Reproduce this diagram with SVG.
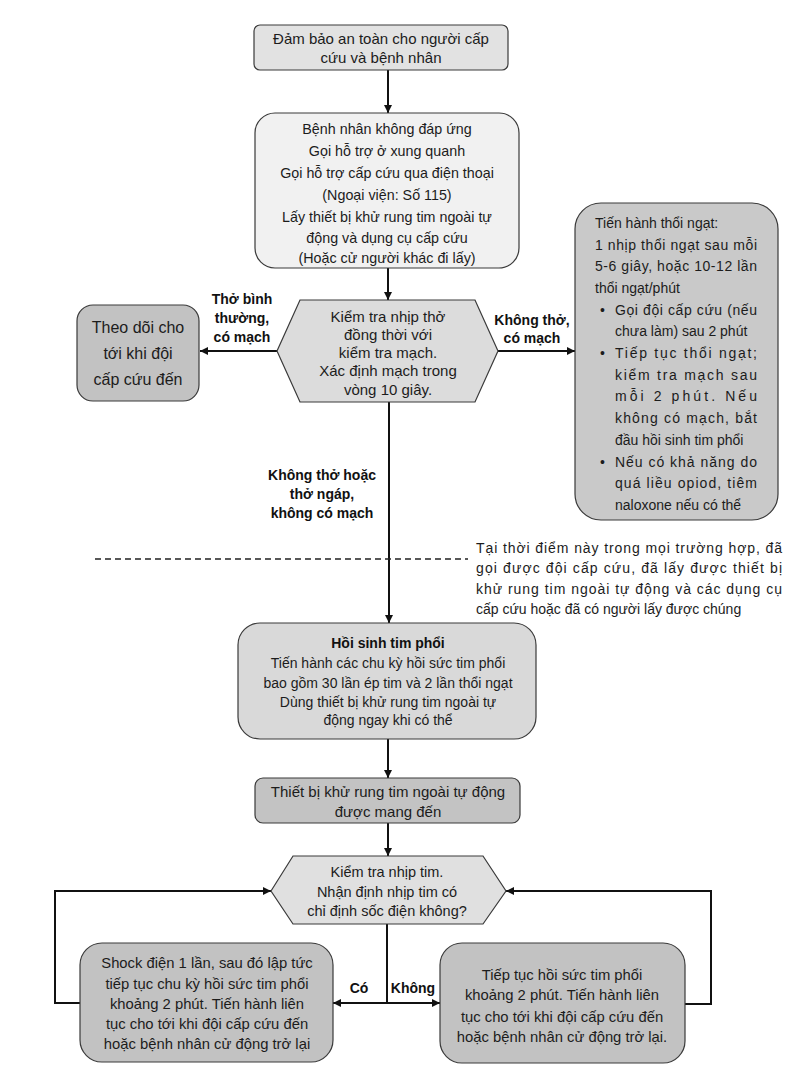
<svg xmlns="http://www.w3.org/2000/svg" width="795" height="1077" viewBox="0 0 795 1077">
<defs>
<style>
.t{font-family:"Liberation Sans","DejaVu Sans",sans-serif;font-size:14px;fill:#1c1c1c;}
.c{text-anchor:middle;}
.b{font-weight:bold;fill:#111;}
.box{stroke:#3a3a3a;stroke-width:1.2;}
.ln{fill:none;stroke:#111;stroke-width:2;}
#n1 .t,#n3 .t,#n7 .t{font-size:15px;}
#n2 .t{font-size:14.3px;}
#n8 .t{font-size:14.5px;}
#n9 .t,#n10 .t{font-size:14.8px;}
</style>
<marker id="ah" viewBox="0 0 10 10" refX="10" refY="5" markerWidth="9" markerHeight="8" markerUnits="userSpaceOnUse" orient="auto">
<path d="M0,0 L10,5 L0,10 z" fill="#111"/>
</marker>
</defs>
<rect width="795" height="1077" fill="#fff"/>

<g id="connectors">
<line class="ln" x1="388" y1="70" x2="388" y2="113" marker-end="url(#ah)"/>
<line class="ln" x1="388" y1="268" x2="388" y2="300" marker-end="url(#ah)"/>
<line class="ln" x1="277" y1="351" x2="200" y2="351" marker-end="url(#ah)"/>
<line class="ln" x1="498" y1="351" x2="575" y2="351" marker-end="url(#ah)"/>
<line class="ln" x1="389" y1="402" x2="389" y2="623" marker-end="url(#ah)"/>
<line class="ln" x1="388" y1="739" x2="388" y2="778" marker-end="url(#ah)"/>
<line class="ln" x1="388" y1="823" x2="388" y2="856" marker-end="url(#ah)"/>
<line class="ln" x1="387" y1="923" x2="387" y2="1003"/>
<line class="ln" x1="387" y1="1003" x2="333" y2="1003" marker-end="url(#ah)"/>
<line class="ln" x1="387" y1="1003" x2="440" y2="1003" marker-end="url(#ah)"/>
<polyline class="ln" points="80,1003 55,1003 55,891 271,891" marker-end="url(#ah)"/>
<polyline class="ln" points="685,1004 711,1004 711,891 506,891" marker-end="url(#ah)"/>
<line x1="95" y1="559" x2="468" y2="559" stroke="#222" stroke-width="1.3" stroke-dasharray="6 4"/>
<g id="labels">
<text class="t b c" x="242" y="304">Thở bình</text>
<text class="t b c" x="242" y="323">thường,</text>
<text class="t b c" x="242" y="342">có mạch</text>
<text class="t b c" x="532" y="325">Không thở,</text>
<text class="t b c" x="532" y="343">có mạch</text>
<text class="t b c" x="322" y="480">Không thở hoặc</text>
<text class="t b c" x="322" y="499">thở ngáp,</text>
<text class="t b c" x="322" y="518">không có mạch</text>
<text class="t b c" x="359" y="993">Có</text>
<text class="t b c" x="413" y="993">Không</text>
</g>
</g>

<g id="n1">
<rect class="box" x="254" y="25" width="254" height="45" rx="6" fill="#e2e2e2"/>
<text class="t c" x="381" y="44">Đảm bảo an toàn cho người cấp</text>
<text class="t c" x="381" y="63">cứu và bệnh nhân</text>
</g>

<g id="n2">
<rect class="box" x="255" y="113" width="264" height="155" rx="20" fill="#f1f1f1"/>
<text class="t c" x="387" y="134">Bệnh nhân không đáp ứng</text>
<text class="t c" x="387" y="156">Gọi hỗ trợ ở xung quanh</text>
<text class="t c" x="387" y="178">Gọi hỗ trợ cấp cứu qua điện thoại</text>
<text class="t c" x="387" y="200">(Ngoại viện: Số 115)</text>
<text class="t c" x="387" y="222">Lấy thiết bị khử rung tim ngoài tự</text>
<text class="t c" x="387" y="243">động và dụng cụ cấp cứu</text>
<text class="t c" x="387" y="263">(Hoặc cử người khác đi lấy)</text>
</g>

<g id="n3">
<polygon class="box" points="277,351 300,300 475,300 498,351 475,402 300,402" fill="#dcdcdc"/>
<text class="t c" x="388" y="322">Kiểm tra nhịp thở</text>
<text class="t c" x="388" y="340">đồng thời với</text>
<text class="t c" x="388" y="358">kiểm tra mạch.</text>
<text class="t c" x="388" y="376">Xác định mạch trong</text>
<text class="t c" x="388" y="395">vòng 10 giây.</text>
</g>

<g id="n4">
<rect class="box" x="77" y="305" width="122" height="96" rx="16" fill="#c2c2c2"/>
<text class="t c" x="138" y="333" style="font-size:16px">Theo dõi cho</text>
<text class="t c" x="138" y="359" style="font-size:16px">tới khi đội</text>
<text class="t c" x="138" y="385" style="font-size:16px">cấp cứu đến</text>
</g>

<g id="n5">
<rect class="box" x="575" y="203" width="203" height="317" rx="26" fill="#c9c9c9"/>
<text class="t" x="595" y="228">Tiến hành thổi ngạt:</text>
<text class="t" x="595" y="250" textLength="162" lengthAdjust="spacing">1 nhịp thổi ngạt sau mỗi</text>
<text class="t" x="595" y="271" textLength="162" lengthAdjust="spacing">5-6 giây, hoặc 10-12 lần</text>
<text class="t" x="595" y="293">thổi ngạt/phút</text>
<text class="t" x="600" y="315">•</text>
<text class="t" x="615" y="315" textLength="142" lengthAdjust="spacing">Gọi đội cấp cứu (nếu</text>
<text class="t" x="615" y="336">chưa làm) sau 2 phút</text>
<text class="t" x="600" y="358">•</text>
<text class="t" x="615" y="358" textLength="142" lengthAdjust="spacing">Tiếp tục thổi ngạt;</text>
<text class="t" x="615" y="380" textLength="142" lengthAdjust="spacing">kiểm tra mạch sau</text>
<text class="t" x="615" y="401" textLength="142" lengthAdjust="spacing">mỗi 2 phút. Nếu</text>
<text class="t" x="615" y="423" textLength="142" lengthAdjust="spacing">không có mạch, bắt</text>
<text class="t" x="615" y="445">đầu hồi sinh tim phổi</text>
<text class="t" x="600" y="467">•</text>
<text class="t" x="615" y="467" textLength="142" lengthAdjust="spacing">Nếu có khả năng do</text>
<text class="t" x="615" y="488" textLength="142" lengthAdjust="spacing">quá liều opiod, tiêm</text>
<text class="t" x="615" y="510">naloxone nếu có thể</text>
</g>

<g id="note">
<text class="t" x="476" y="553" textLength="306" lengthAdjust="spacing">Tại thời điểm này trong mọi trường hợp, đã</text>
<text class="t" x="476" y="573" textLength="306" lengthAdjust="spacing">gọi được đội cấp cứu, đã lấy được thiết bị</text>
<text class="t" x="476" y="594" textLength="306" lengthAdjust="spacing">khử rung tim ngoài tự động và các dụng cụ</text>
<text class="t" x="476" y="614">cấp cứu hoặc đã có người lấy được chúng</text>
</g>

<g id="n6">
<rect class="box" x="238" y="623" width="298" height="116" rx="22" fill="#d9d9d9"/>
<text class="t c b" x="388" y="648">Hồi sinh tim phổi</text>
<text class="t c" x="388" y="668">Tiến hành các chu kỳ hồi sức tim phổi</text>
<text class="t c" x="388" y="688">bao gồm 30 lần ép tim và 2 lần thổi ngạt</text>
<text class="t c" x="388" y="707">Dùng thiết bị khử rung tim ngoài tự</text>
<text class="t c" x="388" y="725">động ngay khi có thể</text>
</g>

<g id="n7">
<rect class="box" x="255" y="778" width="265" height="45" rx="8" fill="#c3c3c3"/>
<text class="t c" x="388" y="797">Thiết bị khử rung tim ngoài tự động</text>
<text class="t c" x="388" y="817">được mang đến</text>
</g>

<g id="n8">
<polygon class="box" points="271,891 293,856 483,856 506,891 483,924 293,924" fill="#e0e0e0"/>
<text class="t c" x="387" y="877">Kiểm tra nhịp tim.</text>
<text class="t c" x="387" y="897">Nhận định nhịp tim có</text>
<text class="t c" x="387" y="916">chỉ định sốc điện không?</text>
</g>

<g id="n9">
<rect class="box" x="80" y="943" width="253" height="119" rx="22" fill="#c2c2c2"/>
<text class="t c" x="207" y="968">Shock điện 1 lần, sau đó lập tức</text>
<text class="t c" x="207" y="989">tiếp tục chu kỳ hồi sức tim phổi</text>
<text class="t c" x="207" y="1009">khoảng 2 phút. Tiến hành liên</text>
<text class="t c" x="207" y="1029">tục cho tới khi đội cấp cứu đến</text>
<text class="t c" x="207" y="1049">hoặc bệnh nhân cử động trở lại</text>
</g>

<g id="n10">
<rect class="box" x="440" y="943" width="245" height="120" rx="22" fill="#c2c2c2"/>
<text class="t c" x="562" y="980">Tiếp tục hồi sức tim phổi</text>
<text class="t c" x="562" y="1000">khoảng 2 phút. Tiến hành liên</text>
<text class="t c" x="562" y="1022">tục cho tới khi đội cấp cứu đến</text>
<text class="t c" x="562" y="1042">hoặc bệnh nhân cử động trở lại.</text>
</g>
</svg>
